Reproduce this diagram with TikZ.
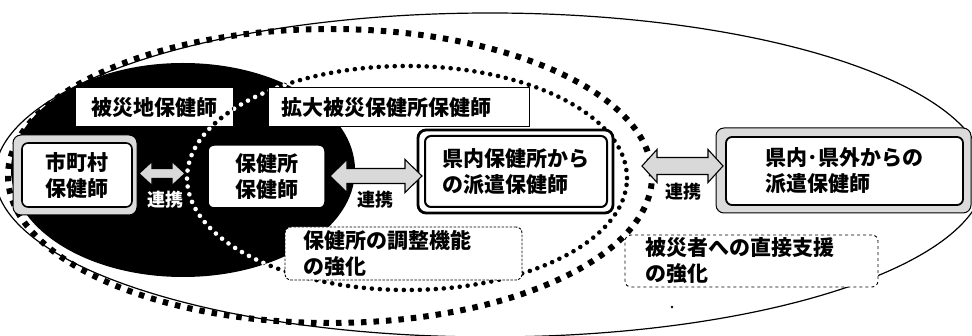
\documentclass[tikz,border=0pt]{standalone}
\usepackage{fontspec}
\setmainfont{Noto Sans CJK JP}
\usetikzlibrary{calc}
\tikzset{
  jtext/.style={font=\fontsize{21}{26}\selectfont\bfseries},
  rentext/.style={font=\fontsize{18}{20}\selectfont\bfseries, inner sep=0pt},
  labelbox/.style={draw=black, line width=1pt, fill=white, jtext, minimum height=39pt, inner ysep=0pt},
  framebox/.style={draw=black, line width=1pt, rounded corners=8pt, fill=gray!28},
  whitebox/.style={draw=black, fill=white, rounded corners=6pt, jtext, align=left, inner sep=0pt},
  notebox/.style={draw=black, fill=white, rounded corners=6pt, jtext, align=left, line width=0.9pt, inner ysep=0pt},
  arr/.style={draw=black, line width=1.1pt, fill=gray!30, line join=miter},
  sqdots/.style={line width=6pt, dash pattern=on 5.5pt off 7pt},
  rddots/.style={line width=4.6pt, dash pattern=on 0pt off 8pt, line cap=round},
}
\newcommand\blockarrow[6]{%
  \draw[arr] (#1,#3) -- ({#1+#6},{#3-#5}) -- ({#1+#6},{#3-#4}) -- ({#2-#6},{#3-#4})
    -- ({#2-#6},{#3-#5}) -- (#2,#3) -- ({#2-#6},{#3+#5}) -- ({#2-#6},{#3+#4})
    -- ({#1+#6},{#3+#4}) -- ({#1+#6},{#3+#5}) -- cycle;}
\begin{document}
\begin{tikzpicture}[x=1pt,y=-1pt]
\useasboundingbox (0,0) rectangle (972,336);
\fill[white] (0,0) rectangle (972,336);
% outer thin ellipse
\draw[line width=1.2pt, fill=white] (490,175) ellipse [x radius=495pt, y radius=162pt];
% big square-dotted ellipse
\draw[sqdots] (330,176) ellipse [x radius=322pt, y radius=147pt];
% black ellipse
\fill[black] (183,170) ellipse [x radius=172pt, y radius=107pt];
% label 1
\node[labelbox, minimum width=158pt] (hisai) at (154,107.5) {被災地保健師};
% inner round-dotted ellipse
\draw[rddots] (407,178) ellipse [x radius=220pt, y radius=112pt];
\begin{scope}
  \clip (183,170) ellipse [x radius=172pt, y radius=107pt];
  \draw[rddots, white] (407,178) ellipse [x radius=220pt, y radius=112pt];
\end{scope}
\begin{scope}
  \clip (75,88) rectangle (233,127);
  \draw[rddots, black] (407,178) ellipse [x radius=220pt, y radius=112pt];
\end{scope}
% label 2
\node[labelbox, text width=235pt, inner xsep=13pt, align=left] (kakudai) at (398.5,107.5) {拡大被災保健所保健師};
% box 3
\node[framebox, minimum width=124pt, minimum height=80pt] (shi-out) at (75,175) {};
\node[whitebox, line width=1.6pt, minimum width=110pt, minimum height=64pt] (shi) at (77,175) {市町村\\保健師};
% box 4
\node[whitebox, line width=1.5pt, minimum width=117pt, minimum height=63pt] (hoken) at (266.5,176.5) {保健所\\保健師};
% box 5
\node[draw=black, line width=2.8pt, rounded corners=8pt, fill=white, minimum width=195pt, minimum height=83pt] (ken-out) at (515.5,171.5) {};
\node[whitebox, line width=2pt, minimum width=182pt, minimum height=71pt] (ken) at (516,171.5) {県内保健所から\\の派遣保健師};
% box 6
\node[framebox, minimum width=255pt, minimum height=85pt] (gai-out) at (843.5,170.5) {};
\node[whitebox, line width=1.8pt, minimum width=237pt, minimum height=68pt] (gai) at (844.5,171) {県内･県外からの\\派遣保健師};
% note boxes
\node[notebox, dash pattern=on 2.5pt off 1.5pt, text width=201pt, inner xsep=18pt, minimum height=53pt] (note1) at (403.5,253.5) {保健所の調整機能\\の強化};
\node[notebox, dashed, text width=213pt, inner xsep=20pt, minimum height=52pt] (note2) at (751.5,261) {被災者への直接支援\\の強化};
% arrows
\blockarrow{139}{185}{173.5}{5}{12}{13}
\blockarrow{330}{422}{176}{7.5}{16.5}{17}
\blockarrow{642}{723}{166}{8.5}{16.5}{15}
% labels
\node[rentext, text=white] (r1) at (165,200) {連携};
\node[rentext] (r2) at (375,200) {連携};
\node[rentext] (r3) at (683,192) {連携};
% stray dot
\fill (672,307) circle (1.3pt);
\end{tikzpicture}
\end{document}
